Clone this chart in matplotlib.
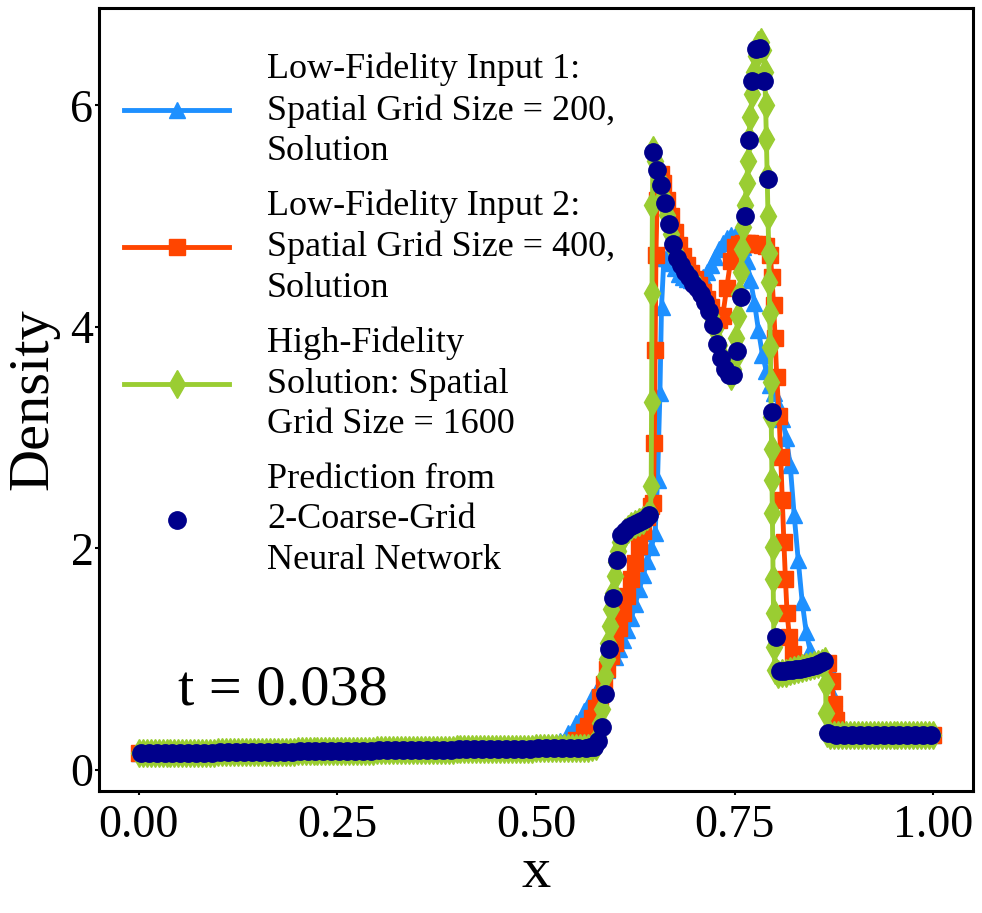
import matplotlib
matplotlib.use('Agg')
import matplotlib.pyplot as plt

plt.rcParams['font.family'] = ['Liberation Serif', 'DejaVu Serif']

# ---- Low-fidelity input 1 (grid 200) ----
lf1_x = [0.00, 0.05, 0.10, 0.15, 0.20, 0.25, 0.30, 0.35, 0.40, 0.45,
         0.50, 0.52, 0.53, 0.54, 0.55, 0.56, 0.57, 0.58, 0.59, 0.60,
         0.605, 0.61, 0.615, 0.62, 0.625, 0.63, 0.635, 0.64, 0.645, 0.65,
         0.653, 0.656, 0.658, 0.661, 0.665, 0.67, 0.675, 0.68, 0.685, 0.69,
         0.695, 0.70, 0.705, 0.71, 0.715, 0.72, 0.725, 0.73, 0.735, 0.74,
         0.745, 0.75, 0.755, 0.76, 0.765, 0.77, 0.775, 0.78, 0.785, 0.79,
         0.795, 0.80, 0.805, 0.81, 0.815, 0.82, 0.825, 0.83, 0.835, 0.84,
         0.845, 0.85, 0.855, 0.86, 0.865, 0.87, 0.875, 0.88, 0.885, 0.90,
         0.925, 0.95, 0.975, 1.00]
lf1_y = [0.15, 0.15, 0.16, 0.16, 0.17, 0.17, 0.18, 0.18, 0.19, 0.19,
         0.20, 0.22, 0.26, 0.33, 0.42, 0.53, 0.66, 0.78, 0.90, 1.02,
         1.09, 1.17, 1.26, 1.37, 1.50, 1.63, 1.76, 1.89, 2.01, 2.14,
         2.62, 3.40, 4.18, 4.62, 4.62, 4.58, 4.53, 4.48, 4.45, 4.43,
         4.42, 4.42, 4.43, 4.45, 4.50, 4.56, 4.63, 4.70, 4.76, 4.80,
         4.83, 4.82, 4.79, 4.72, 4.60, 4.42, 4.22, 3.97, 3.75, 3.60,
         3.48, 3.40, 3.30, 3.17, 3.00, 2.75, 2.30, 1.90, 1.52, 1.25,
         1.08, 0.98, 0.95, 0.94, 0.93, 0.90, 0.65, 0.40, 0.33, 0.32,
         0.32, 0.32, 0.32, 0.32]

# ---- Low-fidelity input 2 (grid 400) ----
lf2_x = [0.00, 0.05, 0.10, 0.15, 0.20, 0.25, 0.30, 0.35, 0.40, 0.45,
         0.50, 0.525, 0.54, 0.55, 0.56, 0.565, 0.57, 0.575, 0.58, 0.585,
         0.59, 0.595, 0.60, 0.605, 0.61, 0.615, 0.62, 0.625, 0.63, 0.635,
         0.64, 0.645, 0.6475, 0.649, 0.650, 0.651, 0.6525, 0.655, 0.6575, 0.66,
         0.665, 0.67, 0.675, 0.68, 0.685, 0.69, 0.695, 0.70, 0.705, 0.71,
         0.715, 0.72, 0.725, 0.73, 0.735, 0.74, 0.745, 0.75, 0.755, 0.76,
         0.765, 0.77, 0.775, 0.78, 0.785, 0.79, 0.795, 0.797, 0.799, 0.801,
         0.803, 0.806, 0.808, 0.810, 0.812, 0.814, 0.816, 0.819, 0.823, 0.83,
         0.84, 0.85, 0.86, 0.868, 0.872, 0.875, 0.878, 0.88, 0.90, 0.925,
         0.95, 0.975, 1.00]
lf2_y = [0.15, 0.15, 0.16, 0.16, 0.17, 0.17, 0.18, 0.18, 0.19, 0.19,
         0.20, 0.21, 0.23, 0.27, 0.34, 0.40, 0.47, 0.56, 0.66, 0.78,
         0.91, 1.03, 1.15, 1.28, 1.42, 1.57, 1.72, 1.87, 2.02, 2.16,
         2.28, 2.38, 2.41, 2.95, 3.79, 4.65, 5.15, 5.35, 5.38, 5.30,
         5.15, 5.00, 4.86, 4.74, 4.64, 4.56, 4.49, 4.43, 4.38, 4.32,
         4.25, 4.18, 4.11, 4.06, 4.10, 4.35, 4.60, 4.72, 4.75, 4.76,
         4.76, 4.76, 4.75, 4.75, 4.74, 4.73, 4.65, 4.45, 4.20, 3.90,
         3.55, 3.20, 2.83, 2.44, 2.06, 1.72, 1.42, 1.20, 1.05, 0.97,
         0.95, 0.95, 0.96, 0.97, 0.80, 0.60, 0.45, 0.33, 0.32, 0.32,
         0.32, 0.32, 0.32]

# ---- High-fidelity solution (grid 1600) ----
hf_x = [0.000, 0.005, 0.010, 0.015, 0.020, 0.025, 0.030, 0.035, 0.040, 0.045,
        0.050, 0.055, 0.060, 0.065, 0.070, 0.075, 0.080, 0.085, 0.090, 0.095,
        0.100, 0.105, 0.110, 0.115, 0.120, 0.125, 0.130, 0.135, 0.140, 0.145,
        0.150, 0.155, 0.160, 0.165, 0.170, 0.175, 0.180, 0.185, 0.190, 0.195,
        0.200, 0.205, 0.210, 0.215, 0.220, 0.225, 0.230, 0.235, 0.240, 0.245,
        0.250, 0.255, 0.260, 0.265, 0.270, 0.275, 0.280, 0.285, 0.290, 0.295,
        0.300, 0.305, 0.310, 0.315, 0.320, 0.325, 0.330, 0.335, 0.340, 0.345,
        0.350, 0.355, 0.360, 0.365, 0.370, 0.375, 0.380, 0.385, 0.390, 0.395,
        0.400, 0.405, 0.410, 0.415, 0.420, 0.425, 0.430, 0.435, 0.440, 0.445,
        0.450, 0.455, 0.460, 0.465, 0.470, 0.475, 0.480, 0.485, 0.490, 0.495,
        0.500, 0.505, 0.510, 0.515, 0.520, 0.525, 0.530, 0.535, 0.540, 0.545,
        0.550, 0.555, 0.560, 0.565, 0.570, 0.575,
        0.578, 0.581, 0.583, 0.585, 0.587, 0.589, 0.591, 0.593, 0.595, 0.597,
        0.599, 0.601, 0.603, 0.606, 0.609, 0.612, 0.616, 0.620, 0.625, 0.630,
        0.635, 0.640, 0.644, 0.645, 0.6455, 0.646, 0.6465, 0.6475, 0.650, 0.6525,
        0.655, 0.6575, 0.660, 0.6625, 0.665, 0.6675, 0.670, 0.6725, 0.675, 0.6775,
        0.680, 0.685, 0.690, 0.695, 0.700, 0.705, 0.710, 0.715, 0.720, 0.725,
        0.730, 0.735, 0.740, 0.745, 0.748, 0.750, 0.752, 0.754, 0.756, 0.758,
        0.759, 0.761, 0.763, 0.765, 0.767, 0.768, 0.770, 0.772, 0.774, 0.777,
        0.780, 0.783, 0.786, 0.788, 0.789, 0.790, 0.791, 0.792, 0.793, 0.7935,
        0.794, 0.795, 0.7955, 0.796, 0.7965, 0.797, 0.7975, 0.798, 0.7985, 0.799,
        0.7995, 0.801, 0.805, 0.810, 0.815, 0.820, 0.825, 0.830, 0.835, 0.840,
        0.845, 0.850, 0.855, 0.860, 0.864, 0.8645, 0.865, 0.866,
        0.870, 0.875, 0.880, 0.885, 0.890, 0.895, 0.900, 0.905, 0.910, 0.915,
        0.920, 0.925, 0.930, 0.935, 0.940, 0.945, 0.950, 0.955, 0.960, 0.965,
        0.970, 0.975, 0.980, 0.985, 0.990, 0.995, 1.000]
hf_y = [0.15, 0.15, 0.15, 0.15, 0.15, 0.15, 0.15, 0.15, 0.15, 0.15,
        0.15, 0.15, 0.15, 0.15, 0.15, 0.15, 0.15, 0.15, 0.15, 0.15,
        0.16, 0.16, 0.16, 0.16, 0.16, 0.16, 0.16, 0.16, 0.16, 0.16,
        0.16, 0.16, 0.16, 0.16, 0.16, 0.16, 0.16, 0.16, 0.16, 0.16,
        0.17, 0.17, 0.17, 0.17, 0.17, 0.17, 0.17, 0.17, 0.17, 0.17,
        0.17, 0.17, 0.17, 0.17, 0.17, 0.17, 0.17, 0.17, 0.17, 0.17,
        0.18, 0.18, 0.18, 0.18, 0.18, 0.18, 0.18, 0.18, 0.18, 0.18,
        0.18, 0.18, 0.18, 0.18, 0.18, 0.18, 0.18, 0.18, 0.18, 0.18,
        0.19, 0.19, 0.19, 0.19, 0.19, 0.19, 0.19, 0.19, 0.19, 0.19,
        0.19, 0.19, 0.19, 0.19, 0.19, 0.19, 0.19, 0.19, 0.19, 0.19,
        0.20, 0.20, 0.20, 0.20, 0.20, 0.20, 0.20, 0.20, 0.20, 0.20,
        0.20, 0.20, 0.20, 0.20, 0.21, 0.22,
        0.30, 0.42, 0.55, 0.70, 0.85, 1.00, 1.15, 1.30, 1.45, 1.60,
        1.75, 1.88, 1.98, 2.06, 2.11, 2.15, 2.18, 2.20, 2.22, 2.24,
        2.26, 2.29, 2.32, 2.56, 3.32, 4.31, 5.10, 5.60, 5.50, 5.42,
        5.34, 5.26, 5.17, 5.09, 5.01, 4.93, 4.84, 4.76, 4.69, 4.63,
        4.59, 4.53, 4.48, 4.43, 4.38, 4.33, 4.27, 4.19, 4.10, 3.98,
        3.84, 3.72, 3.62, 3.56, 3.62, 3.72, 3.90, 4.10, 4.30, 4.50,
        4.70, 4.90, 5.10, 5.30, 5.50, 5.70, 5.90, 6.10, 6.30, 6.45,
        6.55, 6.57, 6.50, 6.30, 6.00, 5.70, 5.35, 5.00, 4.67, 4.41,
        4.13, 3.82, 3.50, 3.19, 2.90, 2.62, 2.32, 2.01, 1.72, 1.42,
        1.11, 0.90, 0.87, 0.88, 0.88, 0.89, 0.90, 0.91, 0.92, 0.93,
        0.94, 0.95, 0.96, 0.97, 0.98, 0.78, 0.51, 0.33,
        0.32, 0.32, 0.32, 0.32, 0.32, 0.32, 0.32, 0.32, 0.32, 0.32,
        0.32, 0.32, 0.32, 0.32, 0.32, 0.32, 0.32, 0.32, 0.32, 0.32,
        0.32, 0.32, 0.32, 0.32, 0.32, 0.32, 0.32]

# ---- Prediction from the 2-coarse-grid neural network ----
nn_x = [0.0025, 0.0125, 0.0225, 0.0325, 0.0425, 0.0525, 0.0625, 0.0725, 0.0825, 0.0925,
        0.1025, 0.1125, 0.1225, 0.1325, 0.1425, 0.1525, 0.1625, 0.1725, 0.1825, 0.1925,
        0.2025, 0.2125, 0.2225, 0.2325, 0.2425, 0.2525, 0.2625, 0.2725, 0.2825, 0.2925,
        0.3025, 0.3125, 0.3225, 0.3325, 0.3425, 0.3525, 0.3625, 0.3725, 0.3825, 0.3925,
        0.4025, 0.4125, 0.4225, 0.4325, 0.4425, 0.4525, 0.4625, 0.4725, 0.4825, 0.4925,
        0.5025, 0.5125, 0.5225, 0.5325, 0.5425, 0.5525, 0.5625,
        0.5675, 0.5725, 0.5775, 0.5825, 0.5875, 0.5925, 0.5975, 0.6025, 0.6075, 0.6125,
        0.6175, 0.6225, 0.6275, 0.6325, 0.6375, 0.6425, 0.6475, 0.6525, 0.6575, 0.6625,
        0.6675, 0.6725, 0.6775, 0.6825, 0.6875, 0.6925, 0.6975, 0.7025, 0.7075, 0.7125,
        0.7175, 0.7225, 0.7275, 0.7325, 0.7375, 0.7425, 0.7475, 0.7525, 0.7575, 0.7625,
        0.7675, 0.7725, 0.7775, 0.7825, 0.7875, 0.7925, 0.7975, 0.8025, 0.8075, 0.8125,
        0.8175, 0.8225, 0.8275, 0.8325, 0.8375, 0.8425, 0.8475, 0.8525, 0.8575, 0.8625,
        0.8675, 0.8775, 0.8875, 0.8975, 0.9075, 0.9175, 0.9275, 0.9375, 0.9475, 0.9575,
        0.9675, 0.9775, 0.9875, 0.9975]
nn_y = [0.15, 0.15, 0.15, 0.15, 0.15, 0.15, 0.15, 0.15, 0.15, 0.15,
        0.16, 0.16, 0.16, 0.16, 0.16, 0.16, 0.16, 0.16, 0.16, 0.16,
        0.17, 0.17, 0.17, 0.17, 0.17, 0.17, 0.17, 0.17, 0.17, 0.17,
        0.18, 0.18, 0.18, 0.18, 0.18, 0.18, 0.18, 0.18, 0.18, 0.18,
        0.19, 0.19, 0.19, 0.19, 0.19, 0.19, 0.19, 0.19, 0.19, 0.19,
        0.20, 0.20, 0.20, 0.20, 0.20, 0.20, 0.20,
        0.21, 0.21, 0.26, 0.39, 0.69, 1.09, 1.55, 1.90, 2.12, 2.16,
        2.19, 2.21, 2.23, 2.25, 2.27, 2.30, 5.58, 5.42, 5.28, 5.12,
        4.93, 4.75, 4.62, 4.56, 4.50, 4.45, 4.39, 4.35, 4.30, 4.23,
        4.14, 4.02, 3.85, 3.72, 3.62, 3.57, 3.57, 3.78, 4.27, 5.00,
        5.69, 6.22, 6.51, 6.52, 6.22, 5.34, 3.23, 1.20, 0.89, 0.89,
        0.90, 0.90, 0.91, 0.91, 0.92, 0.93, 0.94, 0.95, 0.97, 0.98,
        0.33, 0.32, 0.32, 0.32, 0.32, 0.32, 0.32, 0.32, 0.32, 0.32,
        0.32, 0.32, 0.32, 0.32]

x_ticks = [0.00, 0.25, 0.50, 0.75, 1.00]
y_ticks = [0, 2, 4, 6]

labels = ['Low-Fidelity Input 1:\nSpatial Grid Size = 200,\nSolution',
          'Low-Fidelity Input 2:\nSpatial Grid Size = 400,\nSolution',
          'High-Fidelity\nSolution: Spatial\nGrid Size = 1600',
          'Prediction from\n2-Coarse-Grid\nNeural Network']

fig = plt.figure(figsize=(9.82, 9.13), dpi=100)
ax = fig.add_axes([0.1008, 0.1336, 0.8900, 0.8576])

ax.plot(lf1_x, lf1_y, color='dodgerblue', marker='^', markersize=12,
        linewidth=3.5, label=labels[0], zorder=2)
ax.plot(lf2_x, lf2_y, color='orangered', marker='s', markersize=12,
        linewidth=3.5, label=labels[1], zorder=3)
ax.plot(hf_x, hf_y, color='yellowgreen', marker='d', markersize=14,
        linewidth=3.5, label=labels[2], zorder=4)
ax.plot(nn_x, nn_y, color='darkblue', marker='o', markersize=12.5,
        linestyle='none', label=labels[3], zorder=5)

ax.text(0.05, 0.59, 't = 0.038', fontsize=42, va='baseline')

ax.set_xlim(-0.05, 1.05)
ax.set_ylim(-0.19, 6.88)
ax.set_xticks(x_ticks)
ax.set_xticklabels([f'{t:.2f}' for t in x_ticks])
ax.set_yticks(y_ticks)
ax.tick_params(labelsize=33, length=3, width=1.5)
ax.tick_params(axis='x', pad=7)
ax.tick_params(axis='y', pad=1)
ax.set_xlabel('x', fontsize=42, labelpad=0)
ax.set_ylabel('Density', fontsize=42)
ax.yaxis.set_label_coords(-0.045, 0.5)
for s in ax.spines.values():
    s.set_linewidth(2.2)

leg = ax.legend(loc='upper left', bbox_to_anchor=(0.0, 0.975), fontsize=26,
                frameon=False, numpoints=1, handlelength=2.9,
                handletextpad=1.05, borderaxespad=0.3, labelspacing=0.6)
for t in leg.get_texts():
    t.set_linespacing(1.3)

fig.savefig('out.png', dpi=100)
